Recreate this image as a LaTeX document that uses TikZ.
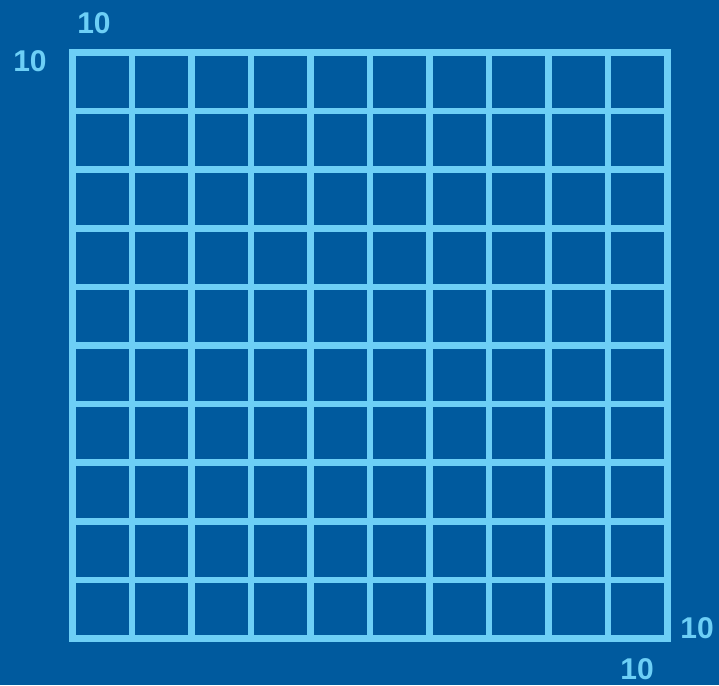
\documentclass[tikz,border=0pt]{standalone}
\usepackage{fontspec}
\setmainfont{Liberation Sans}
\definecolor{board}{HTML}{005A9E}
\definecolor{wire} {HTML}{6DCFF6}

\begin{document}
\begin{tikzpicture}[x=1pt,y=-1pt,
    gridline/.style={draw=wire,line width=6.5pt,line cap=rect},
    countlabel/.style={text=wire,inner sep=0pt,
                       font=\fontsize{30}{30}\selectfont\bfseries}]
  \fill[board] (0,0) rectangle (719,685);
  \useasboundingbox (0,0) rectangle (719,685);
  % grid lines
  \foreach \i in {0,...,10}{
    \draw[gridline] ({72.5+59.5*\i},52.5) -- ({72.5+59.5*\i},638.5);
    \draw[gridline] (72.5,{52.5+58.6*\i}) -- (667.5,{52.5+58.6*\i});
  }
  % counts
  \node[countlabel] (topcount)    at (94,23)   {10};
  \node[countlabel] (leftcount)   at (30,61)   {10};
  \node[countlabel] (rightcount)  at (697,628) {10};
  \node[countlabel] (bottomcount) at (637,669) {10};
\end{tikzpicture}
\end{document}
